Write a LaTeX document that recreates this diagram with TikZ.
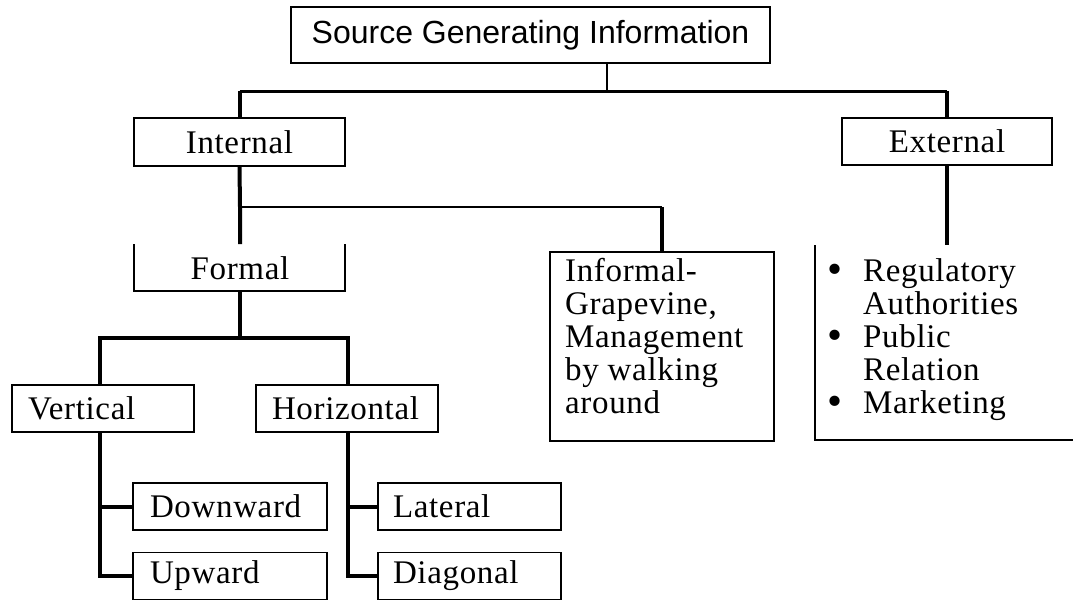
\documentclass[tikz,border=0pt]{standalone}
\usepackage{fontspec}
\setmainfont{Liberation Serif}[LetterSpace=2]
\newfontfamily\titlefont{Liberation Sans}
\newcommand{\bigbul}{\makebox[36pt][l]{\raisebox{-2.5pt}{\scalebox{1.3}{\textbullet}}}}
\begin{document}
\begin{tikzpicture}[x=1pt,y=-1pt,
  box/.style={draw, line width=1.6pt, inner sep=0pt, minimum height=47pt},
  lbox/.style={box, align=left, inner xsep=16pt, text width=150pt, minimum width=182pt},
  sbox/.style={box, align=left, inner xsep=17pt, text width=160pt, minimum width=194pt},
  rbox/.style={box, align=left, inner xsep=15pt, text width=153pt, minimum width=183pt},
  conA/.style={line width=2.5pt},
  conB/.style={line width=4pt},
  frame/.style={line width=1.8pt},
  font=\fontsize{33}{33}\selectfont]
\useasboundingbox (0,0) rectangle (1073,602);

% top
\node[box, minimum width=479pt, minimum height=56pt,
      font=\titlefont\fontsize{32}{36}\selectfont] (title) at (530.5,35) {Source Generating Information};
\node[box, minimum width=211pt, minimum height=48pt] (int) at (239.5,142) {Internal};
\node[box, minimum width=210pt, minimum height=47pt] (ext) at (947,141.5) {External};

% formal (open top)
\node[inner sep=0pt] (formal) at (240,268) {Formal};
\coordinate (fTL) at (134,244);
\coordinate (fBL) at (134,291);
\coordinate (fBR) at (345,291);
\coordinate (fTR) at (345,244);
\coordinate (fB) at (240,291);
\coordinate (fT) at (240,244);
\draw[frame] (fTL) -- (fBL) -- (fBR) -- (fTR);

% informal
\node[box, anchor=north west, minimum width=224pt, minimum height=189pt] (inf) at (549,251) {};
\node[anchor=north west, inner sep=0pt] (inftext) at (565,258)
  {\parbox[t]{205pt}{\raggedright Informal-\\Grapevine,\\Management\\by walking\\around}};

% external list (open frame)
\coordinate (extTL) at (815,245);
\coordinate (extBL) at (815,440);
\coordinate (extBR) at (1073,440);
\draw[frame] (extTL) -- (extBL) -- (extBR);
\node[anchor=north west, inner sep=0pt] (exttext) at (827,258)
  {\parbox[t]{240pt}{\raggedright
   \bigbul Regulatory\\
   \hspace*{36pt}Authorities\\
   \bigbul Public\\
   \hspace*{36pt}Relation\\
   \bigbul Marketing}};

% second level
\node[lbox] (vert) at (103,408.5) {Vertical};
\node[lbox] (hor) at (347,408.5) {Horizontal};
\node[sbox] (down) at (230,506.5) {Downward};
\node[sbox] (up) at (230,576) {Upward};
\node[rbox] (lat) at (469.5,506.5) {Lateral};
\node[rbox] (diag) at (469.5,576) {Diagonal};

% connectors
\coordinate (tDrop) at (607,91);
\draw[line width=2pt] (title.south -| tDrop) -- (tDrop);
\draw[line width=3pt] (int.north |- tDrop) -- (ext.north |- tDrop);
\draw[conB] (int.north |- tDrop) -- (int.north);
\draw[conB] (ext.north |- tDrop) -- (ext.north);

\coordinate (j1) at (240,207);
\draw[conB] (int.south) -- (j1) -- (fT);
\draw[conA] (j1) -- (j1 -| inf.north);
\draw[conB] (j1 -| inf.north) -- (inf.north);

\draw[conB] (ext.south) -- (ext.south |- extTL);

\coordinate (j2) at (240,338);
\coordinate (vx) at (100,338);
\coordinate (hx) at (348,338);
\draw[conB] (fB) -- (j2);
\draw[conB] (vx |- vert.north) -- (vx) -- (hx) -- (hx |- hor.north);

\draw[conB] (vx |- vert.south) -- (vx |- up.west) -- (up.west);
\draw[conB] (vx |- down.west) -- (down.west);
\draw[conB] (hx |- hor.south) -- (hx |- diag.west) -- (diag.west);
\draw[conB] (hx |- lat.west) -- (lat.west);
\end{tikzpicture}
\end{document}
